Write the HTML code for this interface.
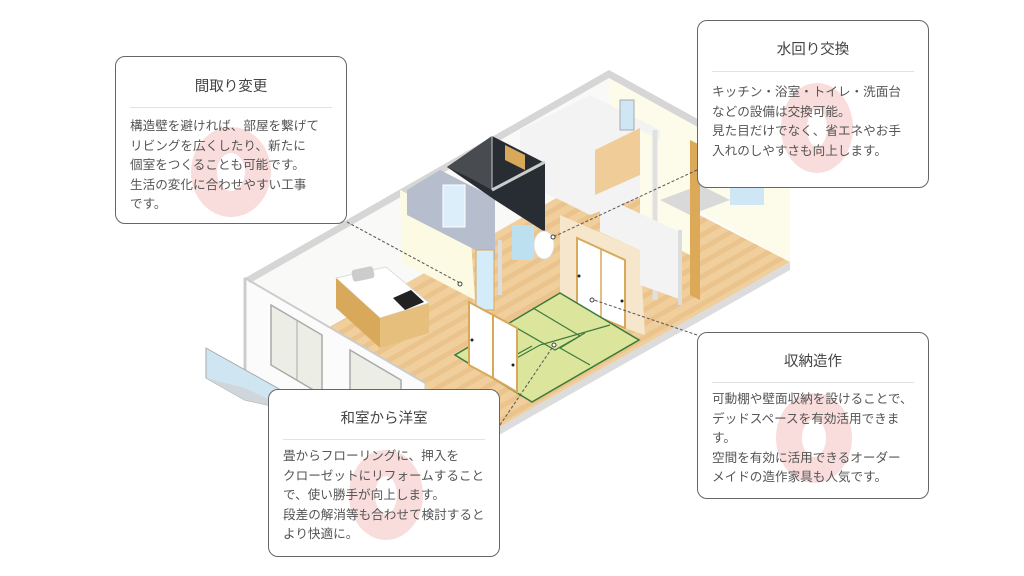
<!DOCTYPE html>
<html><head><meta charset="utf-8"><style>
body{margin:0;width:1024px;height:576px;background:#fff;overflow:hidden;position:relative;font-family:"Liberation Sans","Noto Sans CJK JP",sans-serif;}
.box{position:absolute;width:232px;border:1.5px solid #666;border-radius:10px;background:#fff;box-sizing:border-box;overflow:hidden}
.box h3{margin:0;font-weight:normal;font-size:14.5px;color:#444;text-align:center;position:relative;z-index:2}
.box hr{border:0;border-top:1.5px solid #e2e2e2;margin:0 14px;position:relative;z-index:2}
.box p{margin:0;padding:0 14px;font-size:12.6px;line-height:19.5px;color:#555;position:relative;z-index:2;white-space:nowrap}
.ring{position:absolute;border-radius:50%;border:26px solid #f9dcdc;box-sizing:border-box;z-index:1}
svg{position:absolute;left:0;top:0}
</style></head><body>
<svg width="1024" height="576" viewBox="0 0 1024 576">
<defs><pattern id="wood" width="12" height="12" patternUnits="userSpaceOnUse" patternTransform="rotate(-30)"><rect width="12" height="12" fill="#f0cf9c"/><rect width="12" height="5" fill="#ebc38c"/></pattern></defs>
<polygon points="245,375 609,168 790,262 470,445 425,465" fill="url(#wood)"/>
<polygon points="245,385 425,470 532,408 532,416 425,478 245,393" fill="#dcdcdc"/>
<polygon points="532,408 790,262 790,270 532,416" fill="#dcdcdc"/>
<polygon points="245,278 609,70 609,168 245,375" fill="#f9f9f7"/>
<polygon points="609,70 790,170 790,262 700,212 609,168" fill="#fdfbea"/>
<polygon points="245,278 425,383 425,470 245,385" fill="#fbfbfb" stroke="#ccc" stroke-width="1"/>
<polygon points="245,278 609,70 790,170 790,178 609,78 250,283" fill="#d6d6d6"/>
<line x1="245" y1="278" x2="425" y2="383" stroke="#ccc" stroke-width="2"/>
<line x1="245" y1="278" x2="245" y2="385" stroke="#ccc" stroke-width="3"/>
<!-- right rooms (behind) -->
<polygon points="520,130 590,95 660,130 660,190 590,215 520,180" fill="#f3f3f3"/>
<polygon points="595,150 640,128 640,175 595,195" fill="#f0cd98"/>
<rect x="620" y="100" width="14" height="30" fill="#cfe6f5" stroke="#aaa"/>
<polygon points="640,130 700,160 700,260 640,230" fill="#fdfbea"/>
<polygon points="660,200 700,185 730,200 690,215" fill="#d9d9d9"/>
<rect x="730" y="185" width="34" height="20" fill="#cfe6f5"/>
<polygon points="690,140 700,145 700,300 690,295" fill="#dca958"/>
<line x1="655" y1="130" x2="655" y2="300" stroke="#e0e0e0" stroke-width="5"/>
<!-- yellow wall -->
<polygon points="400,190 470,225 475,300 402,262" fill="#fdfae3"/>
<!-- blue room -->
<polygon points="407,190 440,170 495,198 495,260 407,215" fill="#b6bdcc"/>
<rect x="443" y="185" width="22" height="42" fill="#dceefa" stroke="#fff"/>
<!-- dark bath -->
<polygon points="447,167 492,136 545,163 545,232 495,200" fill="#272d33"/>
<polygon points="447,167 492,136 492,190 470,178" fill="#484b50"/>
<line x1="492" y1="190" x2="545" y2="162" stroke="#ccc" stroke-width="3"/>
<line x1="492" y1="136" x2="492" y2="190" stroke="#ccc" stroke-width="1"/>
<polygon points="505,145 525,155 525,170 505,160" fill="#d8a95a"/>
<!-- partitions -->
<polygon points="560,215 640,250 645,335 560,305" fill="#f6e6cc"/>
<polygon points="577,238 625,260 625,328 577,308" fill="#fff" stroke="#d8a95a" stroke-width="2"/>
<line x1="601" y1="249" x2="601" y2="318" stroke="#d8a95a" stroke-width="1.5"/>
<polygon points="600,195 680,232 682,300 640,285 640,250 600,232" fill="#f3f3f3"/>
<line x1="680" y1="230" x2="680" y2="305" stroke="#ddd" stroke-width="4"/>
<rect x="476" y="250" width="18" height="60" fill="#d4ecf9" stroke="#d8a95a"/>
<line x1="500" y1="240" x2="500" y2="295" stroke="#ddd" stroke-width="4"/>
<rect x="512" y="225" width="22" height="35" fill="#bde0f0"/>
<ellipse cx="544" cy="245" rx="10" ry="14" fill="#fff" stroke="#ddd"/>
<!-- kitchen island -->
<polygon points="336,278 386,267 429,303 380,318" fill="#fff" stroke="#ddd"/>
<polygon points="336,278 380,318 380,348 336,308" fill="#d8a95a"/>
<polygon points="380,318 429,303 429,333 380,348" fill="#e7bf7c"/>
<rect x="352" y="268" width="22" height="12" rx="3" fill="#ccc" transform="rotate(-12 363 274)"/>
<polygon points="393,298 411,290 424,302 405,310" fill="#222"/>
<!-- tatami -->
<polygon points="560,293 639,340 532,402 455,355" fill="#dbe59c" stroke="#3b7a3b" stroke-width="1.5"/>
<polyline points="508,323 555,350 585,333" fill="none" stroke="#3b7a3b" stroke-width="1.2"/>
<polyline points="533,308 580,336 560,348 590,365" fill="none" stroke="#3b7a3b" stroke-width="1.2"/>
<polyline points="480,340 510,358 532,346" fill="none" stroke="#3b7a3b" stroke-width="1.2"/>
<polyline points="495,370 540,345 610,325" fill="none" stroke="#3b7a3b" stroke-width="1.2"/>
<polygon points="469,302 493,315 493,378 469,365" fill="#fff" stroke="#d8a95a" stroke-width="2"/>
<polygon points="493,315 517,328 517,392 493,378" fill="#fff" stroke="#d8a95a" stroke-width="2"/>
<circle cx="472" cy="340" r="1.5" fill="#222"/><circle cx="513" cy="365" r="1.5" fill="#222"/>
<circle cx="579" cy="276" r="1.5" fill="#222"/><circle cx="622" cy="301" r="1.5" fill="#222"/>
<polygon points="271,305 322,335 322,395 271,365" fill="#e3e6d8" fill-opacity=".6" stroke="#aaa" stroke-width="1.5"/>
<line x1="297" y1="320" x2="297" y2="380" stroke="#aaa"/>
<polygon points="350,350 401,380 401,400 350,395" fill="#e3e6d8" fill-opacity=".6" stroke="#aaa" stroke-width="1.5"/>
<polygon points="206,348 290,395 290,410 245,400 206,378" fill="#cfe5f2" stroke="#aaa"/>
<polygon points="206,378 245,400 290,410 245,388" fill="#cfd6dc"/>
<g stroke="#555" stroke-dasharray="3,2" stroke-width="1" fill="none">
<line x1="347" y1="222" x2="460" y2="283"/>
<line x1="697" y1="170" x2="553" y2="237"/>
<line x1="697" y1="335" x2="594" y2="300"/>
<line x1="500" y1="425" x2="554" y2="345"/>
</g>
<g fill="#fff" stroke="#444"><circle cx="460" cy="284" r="2"/><circle cx="553" cy="237" r="2"/><circle cx="592" cy="300" r="2"/><circle cx="554" cy="345" r="2"/></g>
</svg>

<div class="box" style="left:115px;top:56px;height:168px">
<div class="ring" style="left:75px;top:70px;width:80px;height:90px"></div>
<h3 style="margin-top:18px">間取り変更</h3><hr style="margin-top:11px;margin-bottom:9px">
<p>構造壁を避ければ、部屋を繋げて<br>リビングを広くしたり、新たに<br>個室をつくることも可能です。<br>生活の変化に合わせやすい工事<br>です。</p></div>

<div class="box" style="left:697px;top:20px;height:168px">
<div class="ring" style="left:83px;top:62px;width:72px;height:90px"></div>
<h3 style="margin-top:17px">水回り交換</h3><hr style="margin-top:12px;margin-bottom:11px">
<p>キッチン・浴室・トイレ・洗面台<br>などの設備は交換可能。<br>見た目だけでなく、省エネやお手<br>入れのしやすさも向上します。</p></div>

<div class="box" style="left:697px;top:332px;height:167px">
<div class="ring" style="left:78px;top:60px;width:76px;height:90px"></div>
<h3 style="margin-top:17px">収納造作</h3><hr style="margin-top:11px;margin-bottom:7px">
<p>可動棚や壁面収納を設けることで、<br>デッドスペースを有効活用できま<br>す。<br>空間を有効に活用できるオーダー<br>メイドの造作家具も人気です。</p></div>

<div class="box" style="left:268px;top:389px;height:168px">
<div class="ring" style="left:80px;top:60px;width:74px;height:90px"></div>
<h3 style="margin-top:17px">和室から洋室</h3><hr style="margin-top:11px;margin-bottom:7px">
<p>畳からフローリングに、押入を<br>クローゼットにリフォームすること<br>で、使い勝手が向上します。<br>段差の解消等も合わせて検討すると<br>より快適に。</p></div>
</body></html>
